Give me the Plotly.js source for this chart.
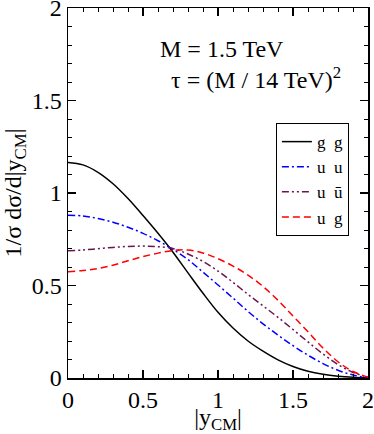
<!DOCTYPE html>
<html>
<head>
<meta charset="utf-8">
<script src="https://cdn.plot.ly/plotly-3.0.1.min.js"></script>
<style>
  html, body { margin: 0; padding: 0; background: #fff; }
  #plot { width: 374px; height: 434px; }
</style>
</head>
<body>
<div id="plot"></div>
<script>
// |y_CM| grid
const yCM = [0, 0.1, 0.2, 0.3, 0.4, 0.5, 0.6, 0.7, 0.8, 0.9, 1.0,
             1.1, 1.2, 1.3, 1.4, 1.5, 1.6, 1.7, 1.8, 1.9, 2.0];

// normalised distributions
const gg    = [1.165, 1.152, 1.112, 1.05, 0.97, 0.878, 0.782, 0.68, 0.568, 0.458, 0.355,
               0.27, 0.2, 0.145, 0.098, 0.062, 0.036, 0.02, 0.01, 0.004, 0.001];
const uu    = [0.88, 0.876, 0.862, 0.842, 0.815, 0.782, 0.742, 0.695, 0.64, 0.572, 0.503,
               0.432, 0.36, 0.293, 0.232, 0.175, 0.123, 0.078, 0.042, 0.016, 0.002];
const uubar = [0.688, 0.692, 0.699, 0.706, 0.711, 0.713, 0.71, 0.70, 0.67, 0.63, 0.578,
               0.517, 0.452, 0.39, 0.328, 0.262, 0.195, 0.13, 0.073, 0.03, 0.004];
const ug    = [0.575, 0.581, 0.592, 0.61, 0.634, 0.656, 0.675, 0.689, 0.692, 0.676, 0.645,
               0.605, 0.556, 0.495, 0.42, 0.335, 0.25, 0.162, 0.088, 0.035, 0.005];

const seriesNames = ['g\u2002g', 'u\u2002u', 'u\u2002ū', 'u\u2002g'];
const xTicks = [0, 0.5, 1, 1.5, 2];
const yTicks = [0, 0.5, 1, 1.5, 2];

const serif = "'Liberation Serif', 'Times New Roman', Times, serif";

const traces = [
    { y: gg,    color: '#000000', dash: 'solid' },
    { y: uu,    color: '#0000ff', dash: '7px,3px,2px,3px' },
    { y: uubar, color: '#6b1550', dash: '7px,3px,2px,3px,2px,3px' },
    { y: ug,    color: '#ff0000', dash: '7px,4px' },
].map((t, i) => ({
    x: yCM,
    y: t.y,
    type: 'scatter',
    mode: 'lines',
    name: seriesNames[i],
    line: { color: t.color, dash: t.dash, width: 1.5, shape: 'spline' },
}));

const axisCommon = {
    showline: true,
    linecolor: '#000',
    linewidth: 1.5,
    mirror: 'ticks',
    ticks: 'inside',
    ticklen: 8,
    tickwidth: 1.2,
    tickcolor: '#000',
    showgrid: false,
    zeroline: false,
    automargin: false,
    ticklabeloverflow: 'allow',
    tickfont: { family: serif, size: 24, color: '#000' },
    minor: { dtick: 0.1, ticks: 'inside', ticklen: 4, tickwidth: 1, tickcolor: '#000', showgrid: false },
};

const layout = {
    width: 374,
    height: 434,
    margin: { l: 68, r: 6, t: 8, b: 56 },
    paper_bgcolor: '#fff',
    plot_bgcolor: '#fff',
    font: { family: serif, color: '#000' },
    showlegend: true,
    legend: {
        x: 0.693, y: 0.689, xanchor: 'left', yanchor: 'top',
        bordercolor: '#000', borderwidth: 1, bgcolor: '#fff',
        font: { family: serif, size: 17, color: '#000' },
        tracegroupgap: 0, itemwidth: 30,
    },
    xaxis: Object.assign({}, axisCommon, {
        range: [0, 2],
        tickvals: xTicks,
        ticktext: xTicks.map(String),
        title: { text: '|y<sub>CM</sub>|', font: { family: serif, size: 24 }, standoff: 2 },
    }),
    yaxis: Object.assign({}, axisCommon, {
        range: [0, 2],
        tickvals: yTicks,
        ticktext: yTicks.map(String),
        title: { text: '1/σ dσ/d|y<sub>CM</sub>|', font: { family: serif, size: 24 }, standoff: 4 },
    }),
    annotations: [
        { x: 0.6, y: 1.78, xref: 'x', yref: 'y', xanchor: 'left', yanchor: 'middle', showarrow: false,
          text: 'M = 1.5 TeV', font: { family: serif, size: 24, color: '#000' } },
        { x: 0.67, y: 1.62, xref: 'x', yref: 'y', xanchor: 'left', yanchor: 'middle', showarrow: false,
          text: 'τ = (M / 14 TeV)<sup>2</sup>', font: { family: serif, size: 24, color: '#000' } },
    ],
};

Plotly.newPlot('plot', traces, layout, { displayModeBar: false, staticPlot: true });
</script>
</body>
</html>
